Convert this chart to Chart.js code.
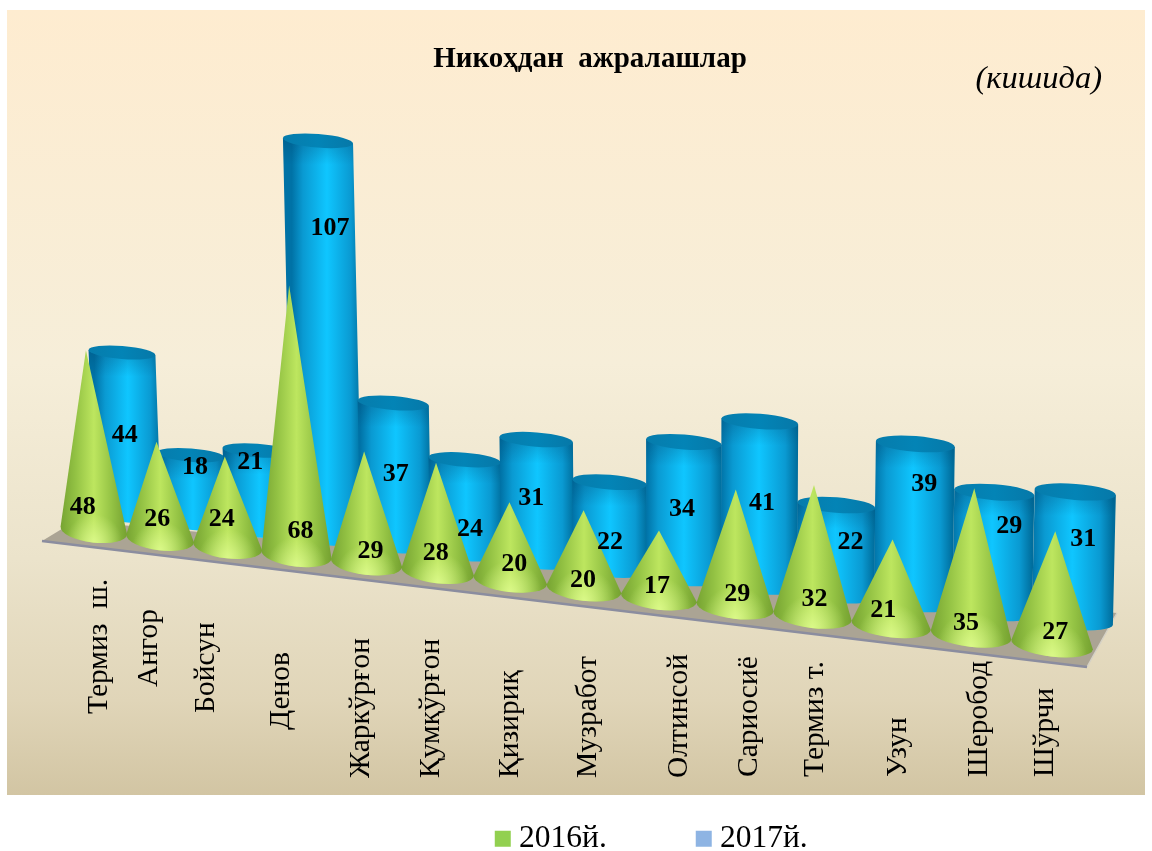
<!DOCTYPE html>
<html>
<head>
<meta charset="utf-8">
<style>
  html, body { margin: 0; padding: 0; background: #fff; }
  canvas { display: block; }
</style>
<script src="https://cdn.jsdelivr.net/npm/chart.js@4"></script>
</head>
<body>
<canvas id="myChart" width="1152" height="851"></canvas>
<script>
const categories = ['Термиз  ш.', 'Ангор', 'Бойсун', 'Денов', 'Жаркўрғон', 'Қумқўрғон', 'Қизириқ', 'Музработ', 'Олтинсой', 'Сариосиё', 'Термиз т.', 'Узун', 'Шеробод', 'Шўрчи']
const values2016 = [48, 26, 24, 68, 29, 28, 20, 20, 17, 29, 32, 21, 35, 27]
const values2017 = [44, 18, 21, 107, 37, 24, 31, 22, 34, 41, 22, 39, 29, 31]
const seriesNames = ['2016й.', '2017й.']
const chartTitle = 'Никоҳдан  ажралашлар'
const unitNote = '(кишида)'

// hand placed label offsets, the original chart has them all over the place
const coneLabelDx = [-11, -3, -6, 4, 4, -2, 4, -1, -2, 2, 2, -8, -5, 3]
const coneLabelLift = [23, 19, 27, 23, 12, 18, 16, 9, 11, 13, 17, 15, 12, 12]
const cylLabelDx = [-3, 2, -9, 3, 0, 4, -6, 0, -2, 3, 15, 11, 17, 11]
const cylLabelLift = [81, 56, 68, 310, 72, 25, 64, 28, 69, 83, 53, 120, 87, 83]
const tickDx = [13, -3, -14, -8, 2, 1, 8, 12, 28, 22, 10, 15, 16, 1]
const tickBottom = [714, 687, 713, 730, 778, 778, 778, 778, 778, 777, 777, 777, 777, 777]

const serif = '"Liberation Serif", "Times New Roman", serif'
const last = categories.length - 1

// fake 3d: bars get pulled along a sloping floor and grow a bit to the right
function project(bar, i, isCyl, first) {
    const x = bar.x + (isCyl ? 0.63 : 0.615) * i * (i - last) - (isCyl ? 1.06 * i : 0)
    const slope = isCyl ? 0.112 : 0.119
    const y0 = bar.base - (isCyl ? 14.5 : 0)
    const baseY = y0 + slope * (x - first)
    const flat = (bar.base - bar.y) * (1 + (isCyl ? 0.0095 : 0.0104) * i)
    // cylinders are further back so tall ones shrink, cones stand in front and stretch
    const h = isCyl ? flat * 1.015 * (1 - flat * 1.1e-4) : flat * 0.96 * (1 + flat * 2.8e-4)
    const lean = (isCyl ? 0.0045 : 0.0055) * h * (i - 8)
    return {x, baseY, h, lean, topX: x + lean, topY: baseY - h, slope}
}

function hGrad(ctx, x0, x1, stops) {
    const g = ctx.createLinearGradient(x0, 0, x1, 0)
    stops.forEach(s => g.addColorStop(s[0], s[1]))
    return g
}

function drawCone(ctx, p, i) {
    const rx = 33.5 + 0.58 * i
    const ry = 12
    const t = Math.atan(p.slope)
    const path = new Path2D()
    path.moveTo(p.topX, p.topY)
    path.ellipse(p.x, p.baseY, rx, ry, t, Math.PI, 0, true)
    path.closePath()
    ctx.fillStyle = hGrad(ctx, p.x - rx, p.x + rx, [
        [0, '#76a332'], [0.22, '#92c143'], [0.5, '#bde65f'], [0.78, '#92c143'], [1, '#74a030']
    ])
    ctx.fill(path)
    // light pool at the front of the base
    const cy = p.baseY + ry
    const g = ctx.createRadialGradient(p.x, cy, 0, p.x, cy, rx * 0.85)
    g.addColorStop(0, 'rgba(228,255,150,0.75)')
    g.addColorStop(1, 'rgba(228,255,150,0)')
    ctx.fillStyle = g
    ctx.fill(path)
}

function drawCylinder(ctx, p, i) {
    const rx = 33.5 + 0.55 * i
    const ry = 6.5 + 0.12 * i
    const t = Math.atan(0.08)
    const cos = Math.cos(t) * rx
    const sin = Math.sin(t) * rx
    const path = new Path2D()
    path.ellipse(p.x, p.baseY, rx, ry, t, Math.PI, 0, true)
    path.lineTo(p.topX + cos, p.topY + sin)
    path.lineTo(p.topX - cos, p.topY - sin)
    path.closePath()
    ctx.fillStyle = hGrad(ctx, p.x - rx, p.x + rx, [
        [0, '#0072a6'], [0.16, '#0a9ad2'], [0.5, '#0fc6ff'], [0.84, '#0a9ad2'], [1, '#006d9c']
    ])
    ctx.fill(path)
    const g = ctx.createLinearGradient(0, p.topY, 0, p.topY + 24)
    g.addColorStop(0, 'rgba(0,70,110,0.3)')
    g.addColorStop(1, 'rgba(0,70,110,0)')
    ctx.fillStyle = g
    ctx.fill(path)
    ctx.beginPath()
    ctx.ellipse(p.topX, p.topY, rx, ry, t, 0, Math.PI * 2)
    ctx.fillStyle = hGrad(ctx, p.topX - rx, p.topX + rx, [[0, '#067cac'], [0.5, '#0384b6'], [1, '#0678a8']])
    ctx.fill()
}

const scenePlugin = {
    id: 'scene',
    afterLayout(chart) {
        // legend padding is only there for the item gap, put the box back where it belongs
        const box = chart.legend
        box.left += 65
        box.right += 65
        box.top = 726.5
        box.bottom = 851
    },
    beforeDraw(chart) {
        const ctx = chart.ctx
        const g = ctx.createLinearGradient(0, 10, 0, 795)
        g.addColorStop(0, '#feecd0')
        g.addColorStop(0.45, '#f6eed9')
        g.addColorStop(0.7, '#ebe3cb')
        g.addColorStop(0.88, '#e0d5b8')
        g.addColorStop(1, '#d2c5a3')
        ctx.save()
        ctx.fillStyle = '#fff'
        ctx.fillRect(0, 0, chart.width, chart.height)
        ctx.fillStyle = g
        ctx.fillRect(7, 10, 1138, 785)
        ctx.restore()
    },
    beforeDatasetsDraw(chart) {
        const ctx = chart.ctx
        ctx.save()
        ctx.beginPath()
        ctx.moveTo(42, 541)
        ctx.lineTo(75, 521)
        ctx.lineTo(1117, 613)
        ctx.lineTo(1087, 667)
        ctx.closePath()
        ctx.fillStyle = '#aba494'
        ctx.fill()
        ctx.beginPath()
        ctx.moveTo(1117, 613)
        ctx.lineTo(1087, 667)
        ctx.lineWidth = 1.5
        ctx.strokeStyle = '#d6d2c6'
        ctx.stroke()
        ctx.beginPath()
        ctx.moveTo(42, 541)
        ctx.lineTo(1087, 667)
        ctx.lineWidth = 2.5
        ctx.strokeStyle = '#8b8d9f'
        ctx.stroke()
        ctx.restore()
    },
    beforeDatasetDraw(chart, args) {
        const ctx = chart.ctx
        const bars = args.meta.data
        const isCyl = args.index === 1
        ctx.save()
        bars.forEach((bar, i) => {
            const p = project(bar, i, isCyl, bars[0].x)
            if (isCyl) drawCylinder(ctx, p, i)
            else drawCone(ctx, p, i)
        })
        ctx.restore()
        return false
    },
    afterDatasetsDraw(chart) {
        const ctx = chart.ctx
        const cones = chart.getDatasetMeta(0).data
        const cyls = chart.getDatasetMeta(1).data
        ctx.save()
        ctx.fillStyle = '#000'
        ctx.textAlign = 'center'
        ctx.textBaseline = 'middle'
        ctx.font = 'bold 26px ' + serif
        cyls.forEach((bar, i) => {
            const p = project(bar, i, true, cyls[0].x)
            ctx.fillText(values2017[i], p.x + cylLabelDx[i], p.baseY - cylLabelLift[i])
        })
        cones.forEach((bar, i) => {
            const p = project(bar, i, false, cones[0].x)
            ctx.fillText(values2016[i], p.x + coneLabelDx[i], p.baseY - coneLabelLift[i])
        })

        // category names, rotated, following the floor
        ctx.textAlign = 'left'
        ctx.textBaseline = 'alphabetic'
        ctx.font = '29.5px ' + serif
        cones.forEach((bar, i) => {
            const p = project(bar, i, false, cones[0].x)
            ctx.save()
            ctx.translate(p.x + tickDx[i], tickBottom[i])
            ctx.rotate(-Math.PI / 2)
            ctx.fillText(chart.data.labels[i], 0, 0)
            ctx.restore()
        })

        ctx.textAlign = 'right'
        ctx.font = 'italic 32.5px ' + serif
        ctx.fillText(unitNote, 1102, 88)
        ctx.restore()
    }
}

const config = {
    type: 'bar',
    data: {
        labels: categories,
        datasets: [
            {label: seriesNames[0], data: values2016, backgroundColor: '#92d050'},
            {label: seriesNames[1], data: values2017, backgroundColor: '#8eb4e3'}
        ]
    },
    options: {
        responsive: false,
        animation: false,
        devicePixelRatio: 1,
        categoryPercentage: 0.9226,
        barPercentage: 1,
        layout: {
            padding: {left: 74, right: 46, top: 0, bottom: 182.5}
        },
        scales: {
            x: {display: false},
            y: {display: false, min: 0, max: 119}
        },
        plugins: {
            title: {
                display: true,
                text: chartTitle,
                color: '#000',
                font: {family: serif, size: 29, weight: 'bold'},
                padding: {top: 42, bottom: 10.2}
            },
            legend: {
                position: 'bottom',
                labels: {
                    usePointStyle: true,
                    pointStyle: 'rect',
                    boxWidth: 1,
                    boxHeight: 16,
                    padding: 96.5,
                    color: '#000',
                    font: {family: serif, size: 31.5}
                }
            },
            tooltip: {enabled: false}
        }
    },
    plugins: [scenePlugin]
}

const myChart = new Chart(document.getElementById('myChart'), config)
</script>
</body>
</html>
